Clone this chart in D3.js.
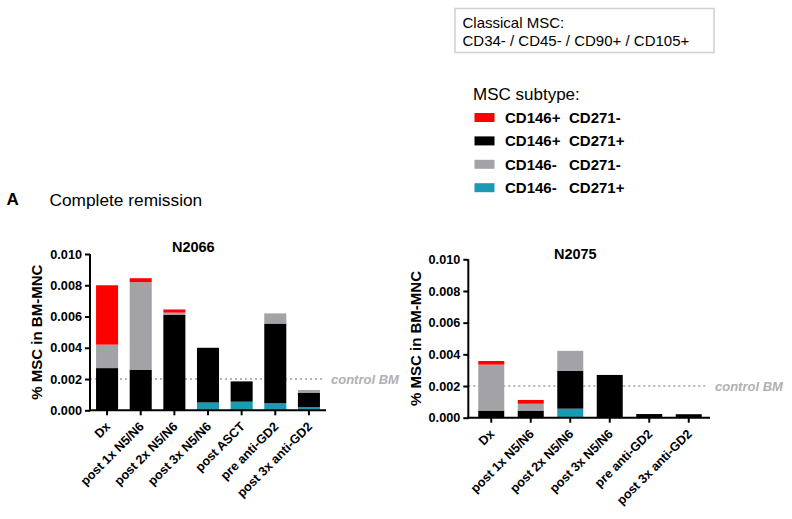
<!DOCTYPE html>
<html><head><meta charset="utf-8">
<script src="https://cdn.jsdelivr.net/npm/d3@7"></script>
<style>body{margin:0;background:#fff}svg{display:block;font-family:"Liberation Sans",Arial,sans-serif}</style>
</head><body>
<svg id="c" width="792" height="519"></svg>
<script>
// ---- data ----
const subtypes = ["CD146- CD271+","CD146+ CD271+","CD146- CD271-","CD146+ CD271-"]; // stack order bottom->top
const subtypeColors = ["#1a9ab3","#000000","#a2a2a7","#ff0000"];
const legendOrder = [3,1,2,0];
const legendLabelsA = ["CD146+","CD146+","CD146-","CD146-"];
const legendLabelsB = ["CD271-","CD271+","CD271-","CD271+"];

const categoriesN2066 = ["Dx","post 1x N5/N6","post 2x N5/N6","post 3x N5/N6","post ASCT","pre anti-GD2","post 3x anti-GD2"];
const tealN2066  = [0, 0, 0, 0.0005, 0.00055, 0.00045, 0.0002];
const blackN2066 = [0.0027, 0.0026, 0.0061, 0.0035, 0.0013, 0.0051, 0.00093];
const grayN2066  = [0.0015, 0.0056, 0.00015, 0, 0, 0.00065, 0.00017];
const redN2066   = [0.0038, 0.00025, 0.0002, 0, 0, 0, 0];

const categoriesN2075 = ["Dx","post 1x N5/N6","post 2x N5/N6","post 3x N5/N6","pre anti-GD2","post 3x anti-GD2"];
const tealN2075  = [0, 0, 0.00057, 0, 0, 0];
const blackN2075 = [0.00045, 0.00045, 0.0024, 0.0027, 0.00023, 0.00022];
const grayN2075  = [0.0029, 0.00043, 0.00125, 0, 0, 0];
const redN2075   = [0.00023, 0.00024, 0, 0, 0, 0];

const yTicks = [0, 0.002, 0.004, 0.006, 0.008, 0.010];
const controlBM = 0.002;

const svg = d3.select("#c");

// header texts
svg.append("text").attr("x",6.5).attr("y",205).attr("font-size",17).attr("font-weight","bold").text("A");
svg.append("text").attr("x",49.5).attr("y",206).attr("font-size",17.3).text("Complete remission");

// info box
svg.append("rect").attr("x",455).attr("y",8.5).attr("width",259).attr("height",44)
  .attr("fill","#fff").attr("stroke","#cfcfcf").attr("stroke-width",1.5);
svg.append("text").attr("x",462.5).attr("y",27.5).attr("font-size",15).text("Classical MSC:");
svg.append("text").attr("x",462.5).attr("y",45.5).attr("font-size",15).text("CD34- / CD45- / CD90+ / CD105+");

// legend
svg.append("text").attr("x",473).attr("y",100).attr("font-size",17).text("MSC subtype:");
legendOrder.forEach((k,i)=>{
  const cy = 117.5 + i*23.4;
  svg.append("rect").attr("x",474.5).attr("y",cy-4.5).attr("width",20).attr("height",9).attr("fill",subtypeColors[k]);
  svg.append("text").attr("x",505).attr("y",cy+5.5).attr("font-size",15).attr("font-weight","bold").text(legendLabelsA[i]);
  svg.append("text").attr("x",569).attr("y",cy+5.5).attr("font-size",15).attr("font-weight","bold").text(legendLabelsB[i]);
});

function drawChart(cfg){
  const g = svg.append("g");
  const x = d3.scaleBand().domain(cfg.categories).range(cfg.xRange).paddingInner(cfg.pi).paddingOuter(cfg.po);
  const y = d3.scaleLinear().domain([0,0.01]).range(cfg.yRange);
  const rows = cfg.categories.map((c,i)=>({cat:c, s0:cfg.series[0][i], s1:cfg.series[1][i], s2:cfg.series[2][i], s3:cfg.series[3][i]}));
  const stack = d3.stack().keys(["s0","s1","s2","s3"])(rows);

  // control line (behind bars)
  g.append("line").attr("x1",cfg.axisX).attr("x2",cfg.ctrlEnd).attr("y1",y(controlBM)).attr("y2",y(controlBM))
    .attr("stroke","#b5b5b5").attr("stroke-width",2).attr("stroke-dasharray","2 3");
  g.append("text").attr("x",cfg.ctrlTextX).attr("y",y(controlBM)+4.5).attr("font-size",13)
    .attr("font-weight","bold").attr("font-style","italic").attr("fill","#b0b0b0").text("control BM");

  stack.forEach((layer,k)=>{
    g.append("g").attr("fill",subtypeColors[k]).selectAll("rect").data(layer).join("rect")
      .attr("x",d=>x(d.data.cat)).attr("width",x.bandwidth())
      .attr("y",d=>y(d[1])).attr("height",d=>Math.max(0,y(d[0])-y(d[1])));
  });

  // y axis
  const ya = g.append("g").attr("transform",`translate(${cfg.axisX},0)`)
    .call(d3.axisLeft(y).tickValues(yTicks).tickFormat(d3.format(".3f")).tickSize(5).tickSizeOuter(0).tickPadding(3));
  ya.selectAll("path,line").attr("stroke","#000").attr("stroke-width",2);
  ya.selectAll("text").attr("font-size",12.7).attr("font-weight","bold").attr("fill","#000")
    .attr("font-family","'Liberation Sans',Arial,sans-serif");
  ya.select(".domain").attr("d",`M0,${cfg.yRange[0]+1}V${cfg.yRange[1]}`);

  // x axis
  const xa = g.append("g").attr("transform",`translate(0,${cfg.yRange[0]})`)
    .call(d3.axisBottom(x).tickSize(5).tickSizeOuter(0));
  xa.select(".domain").attr("d",`M${cfg.axisX-1},0H${cfg.axisEnd}`);
  xa.selectAll("path,line").attr("stroke","#000").attr("stroke-width",2);
  xa.selectAll("text").attr("font-size",12.6).attr("font-weight","bold").attr("fill","#000")
    .attr("font-family","'Liberation Sans',Arial,sans-serif")
    .attr("text-anchor","end").attr("dy",0).attr("y",0)
    .attr("transform","translate(4,17) rotate(-45)");

  // title
  g.append("text").attr("x",cfg.titleX).attr("y",cfg.titleY).attr("text-anchor","middle")
    .attr("font-size",14.5).attr("font-weight","bold").text(cfg.title);
  // y title
  g.append("text").attr("transform",`translate(${cfg.yTitleX},${(cfg.yRange[0]+cfg.yRange[1])/2}) rotate(-90)`)
    .attr("text-anchor","middle").attr("font-size",15).attr("font-weight","bold").text("% MSC in BM-MNC");
}

drawChart({categories:categoriesN2066, series:[tealN2066,blackN2066,grayN2066,redN2066],
  xRange:[90,326], pi:0.345, po:0.18, yRange:[410.3,254], axisX:90, axisEnd:326,
  ctrlEnd:325, ctrlTextX:331, title:"N2066", titleX:193.3, titleY:251.5, yTitleX:41.5});
drawChart({categories:categoriesN2075, series:[tealN2075,blackN2075,grayN2075,redN2075],
  xRange:[470,710], pi:0.342, po:0.209, yRange:[417.7,259.3], axisX:468.3, axisEnd:710,
  ctrlEnd:708, ctrlTextX:715, title:"N2075", titleX:575.3, titleY:259, yTitleX:420.5});
</script>
</body></html>
